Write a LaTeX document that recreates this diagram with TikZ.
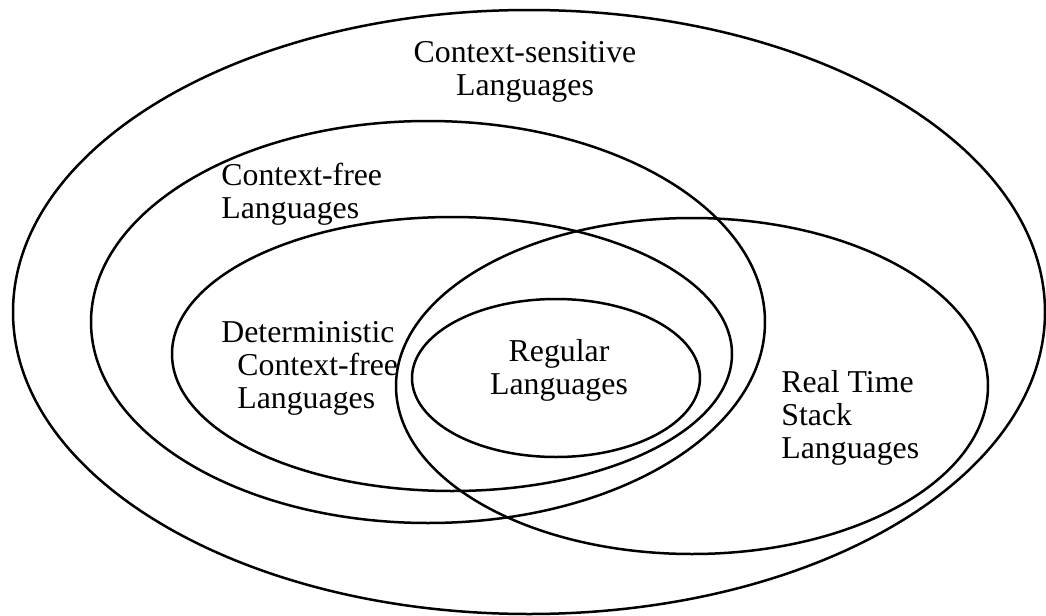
\documentclass[tikz,border=0pt]{standalone}
\usepackage{fontspec}
\setmainfont{Liberation Serif}
\usepackage{tikz}
\usetikzlibrary{positioning}

\begin{document}
\begin{tikzpicture}[x=0.5pt, y=-0.5pt,
    set/.style={line width=1.25pt},
    lbl/.style={inner sep=0pt, font=\fontsize{15.9pt}{16.3pt}\selectfont}]
    \useasboundingbox (0,0) rectangle (1046,616);

    % Language classes
    \draw[set] (529,312) ellipse [x radius=258pt, y radius=151pt];
    \draw[set] (428,322) ellipse [x radius=168.5pt, y radius=100.5pt];
    \draw[set] (452,354) ellipse [x radius=140pt, y radius=68.5pt];
    \draw[set] (692,386) ellipse [x radius=148pt, y radius=84pt];
    \draw[set] (556,378) ellipse [x radius=72pt, y radius=39.5pt];

    % Labels (base = last line)
    \node[lbl, anchor=base, align=center] (csl) at (525,95) {Context-sensitive\\Languages};
    \node[lbl, anchor=base west, align=left] (cfl) at (221,218) {Context-free\\Languages};
    \node[lbl, anchor=base west, align=left] (dcfl) at (221,408) {Deterministic\\\hspace*{8pt}Context-free\\\hspace*{8pt}Languages};
    \node[lbl, anchor=base, align=center] (reg) at (559,394) {Regular\\Languages};
    \node[lbl, anchor=base west, align=left] (rts) at (781,458) {Real Time\\Stack\\Languages};
\end{tikzpicture}
\end{document}
